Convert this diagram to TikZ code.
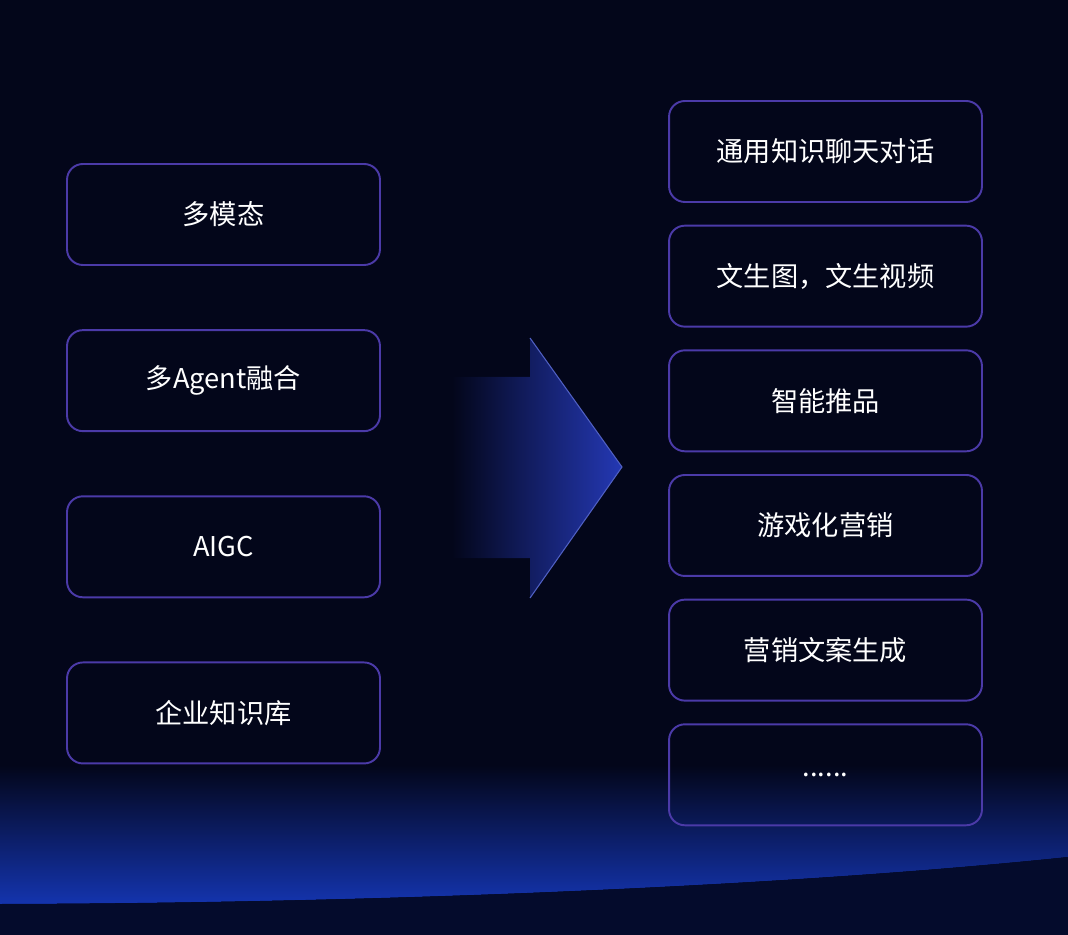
\documentclass[tikz,border=0pt]{standalone}
\usepackage{fontspec}
\setmainfont{Noto Sans CJK SC}
\usetikzlibrary{positioning}
\definecolor{bgnavy}{HTML}{03061A}
\definecolor{floornavy}{HTML}{040B2C}
\definecolor{glowblue}{HTML}{1434AE}
\definecolor{cardline}{HTML}{4B3AA8}
\definecolor{arrowmid}{HTML}{1C1D62}
\definecolor{arrowblue}{HTML}{2438B4}
\begin{document}
\begin{tikzpicture}[x=0.02cm,y=-0.02cm,
    card/.style={draw=cardline,line width=1.1pt,rounded corners=9pt,minimum width=6.26cm,minimum height=2.02cm,text=white,font=\fontsize{15.5}{18}\selectfont},
    leftcard/.style={card,below=1.265cm of #1},
    rightcard/.style={card,below=0.435cm of #1}]
	    % background and floor glow
	    \fill[bgnavy](0,0)rectangle(1068,935);
	    \useasboundingbox(0,0)rectangle(1068,935);
	    \shade[top color=bgnavy,bottom color=glowblue](0,765)--(1068,765)--(1068,857)..controls(800,885)and(400,903)..(0,904)--cycle;
	    \fill[floornavy](0,904)..controls(400,903)and(800,885)..(1068,857)--(1068,935)--(0,935)--cycle;
	    % big arrow
	    \shade[left color=bgnavy,middle color=arrowmid,right color=arrowblue](452,377)--(530,377)--(530,338)--(622,467)--(530,598)--(530,558)--(452,558)--cycle;
	    \draw[arrowblue!80!white,line width=.6pt](530,338)--(622,467)--(530,598);
	    % left column
	    \node[card](l1)at(223.5,214.5){多模态};
	    \node[leftcard=l1](l2){多Agent融合};
	    \node[leftcard=l2](l3){AIGC};
	    \node[leftcard=l3](l4){企业知识库};
	    % right column
	    \node[card](r1)at(825.5,151.5){通用知识聊天对话};
	    \node[rightcard=r1](r2){文生图，文生视频};
	    \node[rightcard=r2](r3){智能推品};
	    \node[rightcard=r3](r4){游戏化营销};
	    \node[rightcard=r4](r5){营销文案生成};
	    \node[rightcard=r5](r6){......};
	\end{tikzpicture}
\end{document}
